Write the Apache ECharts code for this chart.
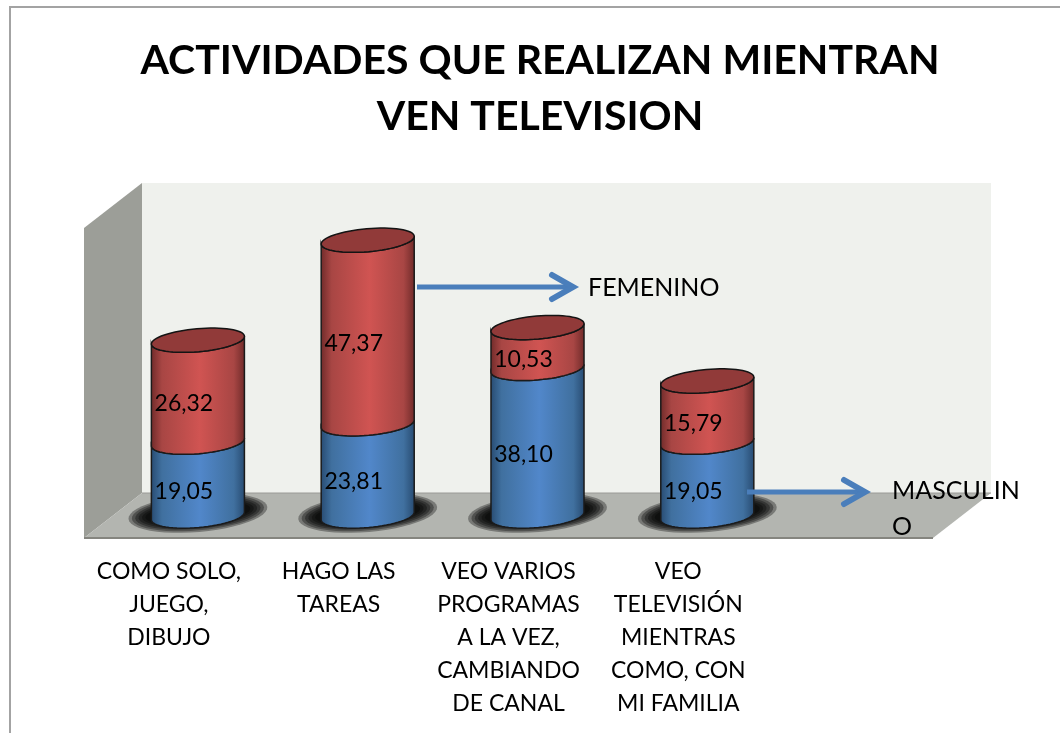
<!DOCTYPE html>
<html>
<head>
<meta charset="utf-8">
<style>html,body{margin:0;padding:0;background:#fff}#c{width:1060px;height:733px}</style>
<script src="https://cdn.jsdelivr.net/npm/echarts@6/dist/echarts.min.js"></script>
</head>
<body>
<div id="c"></div>
<script>
const titleText = 'ACTIVIDADES QUE REALIZAN MIENTRAN\nVEN TELEVISION';
const categories = [
  'COMO SOLO,\nJUEGO,\nDIBUJO',
  'HAGO LAS\nTAREAS',
  'VEO VARIOS\nPROGRAMAS\nA LA VEZ,\nCAMBIANDO\nDE CANAL',
  'VEO\nTELEVISIÓN\nMIENTRAS\nCOMO, CON\nMI FAMILIA',
  ''
];
const masculino = [19.05, 23.81, 38.10, 19.05];
const femenino = [26.32, 47.37, 10.53, 15.79];

const FONT = 'Lato, Carlito, "Open Sans", sans-serif';
const DEPTH = [58, -45];
const OFFSET = [29, -22];
const TILT = -5 * Math.PI / 180;
const RY = 11.5;

function ellPt(cx, cy, rx, t, ry) {
  const r = ry === undefined ? RY : ry;
  return [
    cx + rx * Math.cos(t) * Math.cos(TILT) - r * Math.sin(t) * Math.sin(TILT),
    cy + rx * Math.cos(t) * Math.sin(TILT) + r * Math.sin(t) * Math.cos(TILT)
  ];
}
function arc(cx, cy, rx, from, to, n, ry) {
  const out = [];
  for (let i = 0; i <= n; i++) out.push(ellPt(cx, cy, rx, from + (to - from) * i / n, ry));
  return out;
}
function sideFill(edge, mid, dark) {
  return { type: 'linear', x: 0, y: 0, x2: 1, y2: 0, colorStops: [
    { offset: 0, color: dark }, { offset: 0.12, color: edge }, { offset: 0.52, color: mid },
    { offset: 0.88, color: edge }, { offset: 1, color: dark }
  ] };
}
const LABEL = v => v.toFixed(2).replace('.', ',');

function cylinder(palette, isBase, isTop) {
  return function (params, api) {
    const i = api.value(0);
    const p0 = api.coord([i, api.value(1)]);
    const p1 = api.coord([i, api.value(2)]);
    const rx = api.size([1, 0])[0] * 0.55 / 2;
    const cx = p0[0] + OFFSET[0];
    const y0 = p0[1] + OFFSET[1];
    const y1 = p1[1] + OFFSET[1];
    const children = [];
    if (isBase) {
      for (let k = 5; k >= 0; k--) {
        children.push({
          type: 'polygon', z2: 1,
          shape: { points: arc(cx, y0 - 3, rx + 6 + k * 3.4, 0, Math.PI * 2, 48, 11 + k * 1.6) },
          style: { fill: 'rgba(0,0,0,0.33)' }
        });
      }
    }
    const pts = arc(cx, y0, rx, 0, Math.PI, 32).concat(arc(cx, y1, rx, Math.PI, 0, 32));
    children.push({
      type: 'polygon', z2: 2,
      shape: { points: pts },
      style: { fill: sideFill(palette[0], palette[1], palette[2]), stroke: '#1b1b1b', lineWidth: 1.5 }
    });
    if (isTop) {
      children.push({
        type: 'polygon', z2: 3,
        shape: { points: arc(cx, y1, rx, 0, Math.PI * 2, 64) },
        style: { fill: palette[3], stroke: '#141414', lineWidth: 1.5 }
      });
    }
    children.push({
      type: 'text', z2: 4,
      style: {
        x: cx - 14, y: (y0 + y1) / 2 + 12,
        text: LABEL(api.value(2) - api.value(1)),
        font: '23px ' + FONT, fill: '#000', align: 'center', verticalAlign: 'middle'
      }
    });
    return { type: 'group', children };
  };
}

function chrome(params) {
  const g = params.coordSys;
  const L = g.x, R = g.x + g.width, T = g.y, B = g.y + g.height;
  const dx = DEPTH[0], dy = DEPTH[1];
  return { type: 'group', children: [
    { type: 'polygon', shape: { points: [[L + dx, T + dy], [R + dx, T + dy], [R + dx, B + dy], [L + dx, B + dy]] }, style: { fill: '#EFF1ED' } },
    { type: 'polygon', shape: { points: [[L, T], [L + dx, T + dy], [L + dx, B + dy], [L, B]] }, style: { fill: '#9C9E98' } },
    { type: 'polygon', shape: { points: [[L, B], [L + dx, B + dy], [R + dx, B + dy], [R, B]] }, style: { fill: '#B3B5B0' } },
    { type: 'line', shape: { x1: L + dx, y1: B + dy, x2: R + dx, y2: B + dy }, style: { stroke: '#9a9a96', lineWidth: 1 } },
    { type: 'line', shape: { x1: L, y1: B, x2: R, y2: B }, style: { stroke: '#85857f', lineWidth: 2 } }
  ] };
}

function arrow(x1, x2, y) {
  return [
    { type: 'line', z: 20, shape: { x1: x1, y1: y, x2: x2 - 3, y2: y }, style: { stroke: '#4A7EBB', lineWidth: 5 } },
    { type: 'polyline', z: 20, shape: { points: [[x2 - 24, y - 12], [x2 - 3, y], [x2 - 24, y + 12]] }, style: { stroke: '#4A7EBB', lineWidth: 6, lineCap: 'round', lineJoin: 'miter', fill: null } }
  ];
}

const chart = echarts.init(document.getElementById('c'), null, { renderer: 'canvas' });
chart.setOption({
  animation: false,
  backgroundColor: '#fff',
  title: {
    text: titleText, left: 535, top: 28, textAlign: 'center',
    textStyle: { fontFamily: FONT, fontSize: 41, fontWeight: 'bold', color: '#000', lineHeight: 56 }
  },
  grid: { left: 84, right: 127, top: 228, bottom: 195 },
  xAxis: {
    type: 'category', data: categories,
    axisLine: { show: false }, axisTick: { show: false }, splitLine: { show: false },
    axisLabel: { interval: 0, margin: 17, color: '#000', fontFamily: FONT, fontSize: 23, lineHeight: 33, verticalAlign: 'top' }
  },
  yAxis: { type: 'value', min: 0, max: 80, show: false },
  graphic: [
    { type: 'polyline', z: 0, shape: { points: [[10, 733], [10, 7], [1060, 7]] }, style: { stroke: '#a3a3a3', lineWidth: 2, fill: null } },
    ...arrow(417, 576, 287),
    ...arrow(747, 868, 492),
    { type: 'text', z: 21, style: { x: 588, y: 288, text: 'FEMENINO', font: '25px ' + FONT, fill: '#000', verticalAlign: 'middle' } },
    { type: 'text', z: 21, style: { x: 892, y: 491, text: 'MASCULIN', font: '25px ' + FONT, fill: '#000', verticalAlign: 'middle' } },
    { type: 'text', z: 21, style: { x: 892, y: 527, text: 'O', font: '25px ' + FONT, fill: '#000', verticalAlign: 'middle' } }
  ],
  series: [
    { type: 'custom', name: 'chrome', z: 1, silent: true, data: [[0, 0]], renderItem: chrome, clip: false },
    {
      type: 'custom', name: 'MASCULINO', z: 5, clip: false,
      data: masculino.map((v, i) => [i, 0, v]),
      encode: { x: 0, y: 2 },
      renderItem: cylinder(['#40709F', '#5187CA', '#274a70', '#3e6da6'], true, false)
    },
    {
      type: 'custom', name: 'FEMENINO', z: 6, clip: false,
      data: femenino.map((v, i) => [i, masculino[i], masculino[i] + v]),
      encode: { x: 0, y: 2 },
      renderItem: cylinder(['#A84644', '#D05452', '#6e2a29', '#913A39'], false, true)
    }
  ]
});
</script>
</body>
</html>
